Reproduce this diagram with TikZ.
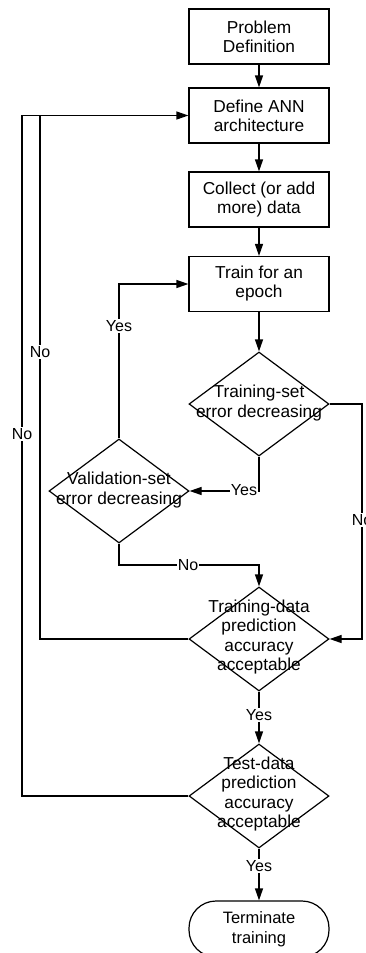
\documentclass[tikz,border=0pt]{standalone}
\usepackage{fontspec}
\setmainfont{Liberation Sans}
\usetikzlibrary{shapes.geometric,arrows.meta}
\begin{document}
\begin{tikzpicture}[x=1pt,y=-1pt,
  every path/.style={line width=1.2pt},
  stepbox/.style={draw,line width=1.2pt,minimum width=140pt,minimum height=55pt,inner sep=0pt,align=center,font=\fontsize{17.3}{19}\selectfont},
  decbox/.style={draw,diamond,line width=1.2pt,minimum width=140pt,minimum height=104pt,inner sep=0pt,aspect=1.35},
  dectext/.style={align=center,inner sep=0pt,font=\fontsize{17.3}{19.3}\selectfont},
  endbox/.style={draw,line width=1.2pt,minimum width=140pt,minimum height=56pt,rounded corners=27pt,inner sep=0pt,align=center,font=\fontsize{16.5}{20}\selectfont},
  lbl/.style={fill=white,inner sep=1pt,font=\fontsize{16}{18}\selectfont},
  arr/.style={-{Triangle[length=12pt,width=8pt]}}
]
\useasboundingbox (0,0) rectangle (365,953);
\node[stepbox] (p1) at (259,36.5) {Problem\\Definition};
\node[stepbox] (p2) at (259,115.5) {Define ANN\\architecture};
\node[stepbox] (p3) at (259,199.5) {Collect (or add\\more) data};
\node[stepbox] (p4) at (259,284) {Train for an\\epoch};
\node[decbox] (d1) at (259,404) {};
\node[dectext] (d1t) at (259,403) {Training-set\\error decreasing};
\node[decbox] (d2) at (119,491) {};
\node[dectext] (d2t) at (119,490) {Validation-set\\error decreasing};
\node[decbox] (d3) at (259,639) {};
\node[dectext] (d3t) at (259,637) {Training-data\\prediction\\accuracy\\acceptable};
\node[decbox] (d4) at (259,796) {};
\node[dectext] (d4t) at (259,794) {Test-data\\prediction\\accuracy\\acceptable};
\node[endbox] (t) at (259,929) {Terminate\\training};

\coordinate (rx) at (362,0);
\coordinate (ix) at (40,0);
\coordinate (ox) at (22,0);
\coordinate (ny) at (0,565);

\draw[arr] (p1) -- (p2);
\draw[arr] (p2) -- (p3);
\draw[arr] (p3) -- (p4);
\draw[arr] (p4) -- (d1.north);
% d1 No -> d3
\draw[arr] (d1.east) -- (d1.east -| rx) -- (d3.east -| rx) -- (d3.east);
\node[lbl] (n1) at (362,520) {No};
% d1 Yes -> d2
\draw[arr] (d1.south) -- (d1.south |- d2.east) -- (d2.east);
\node[lbl] (y1) at (244,490) {Yes};
% d2 Yes -> p4
\draw[arr] (d2.north) -- (d2.north |- p4.west) -- (p4.west);
\node[lbl] (y2) at (119,326) {Yes};
% d2 No -> d3
\draw[arr] (d2.south) -- (d2.south |- ny) -- (d3.north |- ny) -- (d3.north);
\node[lbl] (n2) at (188,565) {No};
% d3 No -> p2
\draw[arr] (d3.west) -- (d3.west -| ix) -- (p2.west -| ix) -- (p2.west);
\node[lbl] (n3) at (40,352) {No};
% d4 No -> p2
\draw (d4.west) -- (d4.west -| ox) -- (p2.west -| ox) -- (p2.west -| ix);
\node[lbl] (n4) at (22,434) {No};
% d3 Yes -> d4
\draw[arr] (d3.south) -- (d4.north);
\node[lbl] (y3) at (259,715) {Yes};
% d4 Yes -> t
\draw[arr] (d4.south) -- (t.north);
\node[lbl] (y4) at (259,866) {Yes};
\end{tikzpicture}
\end{document}
